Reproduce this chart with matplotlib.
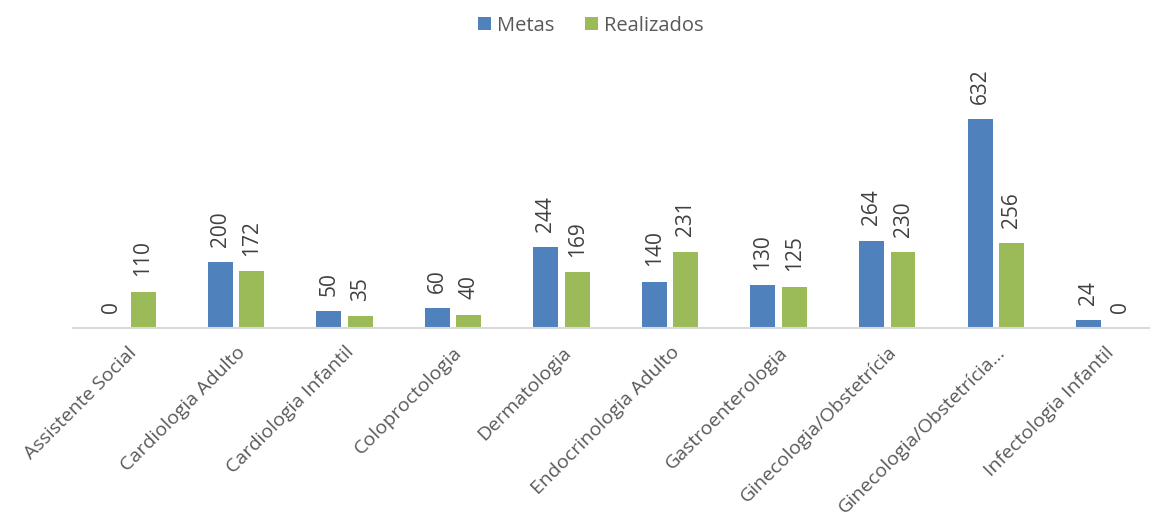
import numpy as np
import matplotlib.pyplot as plt

plt.rcParams['font.family'] = ['Open Sans', 'DejaVu Sans']

categorias = ["Assistente Social", "Cardiologia Adulto", "Cardiologia Infantil",
              "Coloproctologia", "Dermatologia", "Endocrinologia Adulto",
              "Gastroenterologia", "Ginecologia/Obstetrícia", "Ginecologia/Obstetrícia...",
              "Infectologia Infantil"]
metas = [0, 200, 50, 60, 244, 140, 130, 264, 632, 24]
realizados = [110, 172, 35, 40, 169, 231, 125, 230, 256, 0]

azul = "#4F81BD"
verde = "#9BBB59"

fig = plt.figure(figsize=(11.5, 5.22), dpi=100)
ax = fig.add_axes([73 / 1150, 1 - 328 / 522, 1 - 73 / 1150, 288 / 522])

x = np.arange(len(categorias))
w = 0.23
off = 0.145
b1 = ax.bar(x - off, metas, w, color=azul, label="Metas")
b2 = ax.bar(x + off, realizados, w, color=verde, label="Realizados")

for bars in (b1, b2):
    for b in bars:
        ax.annotate(f"{int(b.get_height())}", (b.get_x() + b.get_width() / 2, b.get_height()),
                    xytext=(0, 11), textcoords="offset points", rotation=90,
                    ha="center", va="bottom", fontsize=15, color="#404040")

ax.set_xlim(-0.5, 9.42)
ax.set_ylim(0, 871)
ax.set_yticks([])
for s in ["top", "right", "left"]:
    ax.spines[s].set_visible(False)
ax.spines["bottom"].set_color("#D9D9D9")
ax.spines["bottom"].set_linewidth(1.5)
ax.set_xticks(x)
ax.set_xticklabels(categorias, rotation=45, ha="right", rotation_mode="anchor",
                   fontsize=14, color="#595959")
ax.tick_params(axis="x", length=0, pad=11)

fig.legend(loc="upper center", bbox_to_anchor=(0.514, 1.005), ncol=2, frameon=False,
           fontsize=14.5, labelcolor="#595959", handlelength=0.65, handleheight=0.65,
           handletextpad=0.3, columnspacing=1.5)

fig.savefig("out.png", dpi=100)
